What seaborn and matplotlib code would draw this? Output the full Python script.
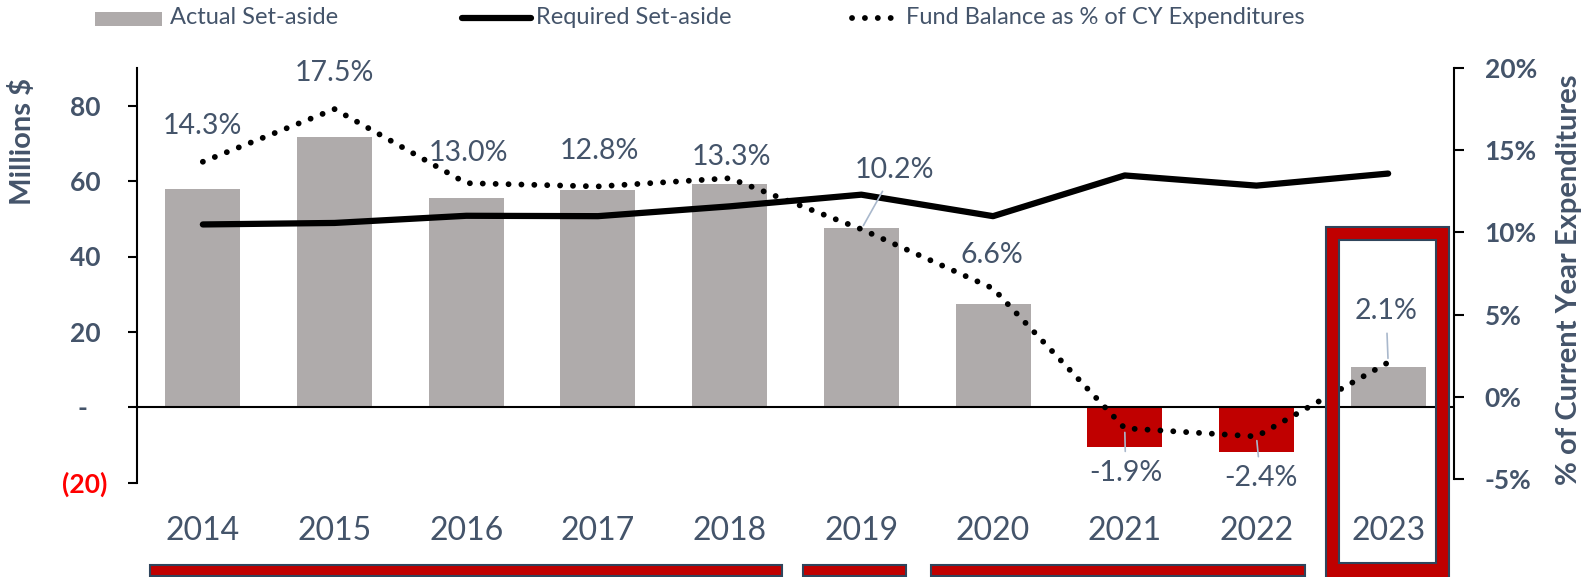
import numpy as np
import pandas as pd
import matplotlib
matplotlib.use('Agg')
import matplotlib.pyplot as plt
from matplotlib.patches import Rectangle, PathPatch
from matplotlib.path import Path
from matplotlib.lines import Line2D
import seaborn as sns

# Datos
years = ['2014', '2015', '2016', '2017', '2018', '2019', '2020', '2021', '2022', '2023']
actual_setaside = [58.0, 71.8, 55.5, 57.6, 59.3, 47.5, 27.5, -10.6, -11.9, 10.8]
required_setaside = [48.5, 48.9, 50.8, 50.7, 53.3, 56.4, 50.7, 61.5, 58.8, 62.0]
fund_balance_pct = [14.3, 17.5, 13.0, 12.8, 13.3, 10.2, 6.6, -1.9, -2.4, 2.1]
left_ticks = [-20, 0, 20, 40, 60, 80]
left_tick_labels = ['(20)', '-   ', '20 ', '40 ', '60 ', '80 ']
right_ticks = [-5, 0, 5, 10, 15, 20]
right_tick_labels = ['-5%', '0%', '5%', '10%', '15%', '20%']

GRAY = '#AFABAB'
RED = '#C00000'
TXT = '#44546A'
DARK = '#2F455C'
bar_colors = [GRAY] * 7 + [RED] * 2 + [GRAY]

# desplazamiento de etiquetas (px) y si llevan línea guía
label_offsets = [(0, 36), (0, 36), (2, 30), (1, 35), (2, 21), (33, 59), (-1, 33), (1, -45), (4, -42), (-2, 51)]
leaders = [False, False, False, False, False, True, False, True, True, True]

df = pd.DataFrame({'Año': years, 'Actual': actual_setaside, 'Required': required_setaside,
                   'Fund': fund_balance_pct, 'pos': np.arange(len(years))})

sns.set_style('white')
plt.rcParams['font.family'] = ['Lato', 'DejaVu Sans']

W, H = 1591, 577
fig = plt.figure(figsize=(W / 100, H / 100), dpi=100)


def fx(x):
    return x / W


def fy(y):
    return 1 - y / H


ax = fig.add_axes([fx(137), fy(482.7), fx(1454) - fx(137), fy(68) - fy(482.7)])

sns.barplot(data=df, x='Año', y='Actual', hue='Año', palette=dict(zip(years, bar_colors)),
            width=0.57, saturation=1, legend=False, linewidth=0, ax=ax)
sns.lineplot(data=df, x='pos', y='Required', ax=ax, color='black', linewidth=4.5,
             solid_capstyle='round', zorder=3)
ax.axhline(0, color='black', lw=1.5, zorder=2)

ax.set_xlim(-0.5, len(years) - 0.5)
ax.set_ylim(-20, 90)
ax.set_yticks(left_ticks)
ax.set_yticklabels(left_tick_labels)
ax.set_xlabel('')
ax.set_ylabel('')
ax.tick_params(axis='y', direction='out', length=6.5, width=1.5, pad=15,
               labelsize=19, labelcolor=TXT, color='black', left=True)
for lab in ax.get_yticklabels():
    lab.set_fontweight('bold')
ax.get_yticklabels()[0].set_color('#FF0000')
ax.tick_params(axis='x', length=0, pad=24, labelsize=23, labelcolor=TXT)
for s in ['top', 'right', 'bottom']:
    ax.spines[s].set_visible(False)
ax.spines['left'].set_color('black')
ax.spines['left'].set_linewidth(1.5)

ax2 = ax.twinx()
sns.lineplot(data=df, x='pos', y='Fund', ax=ax2, color='black', linewidth=4.2,
             linestyle=(0, (0.01, 2.2)), dash_capstyle='round')
ax2.set_ylim(-5.21, 19.96)
ax2.set_yticks(right_ticks)
ax2.set_yticklabels(right_tick_labels)
ax2.set_ylabel('')
ax2.tick_params(axis='y', direction='out', length=7, width=1.5, pad=15,
                labelsize=19, labelcolor=TXT, color='black')
for lab in ax2.get_yticklabels():
    lab.set_fontweight('bold')
for s in ['top', 'left', 'bottom']:
    ax2.spines[s].set_visible(False)
ax2.spines['right'].set_color('black')
ax2.spines['right'].set_linewidth(1.5)
ax2.spines['right'].set_bounds(-5, 20)

for i, v in enumerate(fund_balance_pct):
    dx, dy = label_offsets[i]
    props = None
    if leaders[i]:
        props = dict(arrowstyle='-', color='#A9B8CC', lw=1.2, shrinkA=4, shrinkB=3)
    ax2.annotate(f'{v:.1f}%', xy=(i, v), xytext=(dx, dy), textcoords='offset pixels',
                 ha='center', va='center', fontsize=20.5, color=TXT, arrowprops=props)

fig.text(fx(22), fy(141.5), 'Millions $', rotation=90, ha='center', va='center',
         fontsize=21, fontweight='bold', color=TXT)
fig.text(fx(1569), fy(280), '% of Current Year Expenditures', rotation=90, ha='center',
         va='center', fontsize=21, fontweight='bold', color=TXT)

# leyenda manual
fig.add_artist(Rectangle((fx(95), fy(26)), fx(162) - fx(95), fy(12) - fy(26),
                         transform=fig.transFigure, facecolor=GRAY, edgecolor='none'))
fig.text(fx(170), fy(18), 'Actual Set-aside', ha='left', va='center', fontsize=17, color=TXT)
fig.add_artist(Line2D([fx(462), fx(531)], [fy(18), fy(18)], transform=fig.transFigure,
                      color='black', lw=4.5, solid_capstyle='round'))
fig.text(fx(536), fy(18), 'Required Set-aside', ha='left', va='center', fontsize=17, color=TXT)
fig.add_artist(Line2D([fx(852), fx(893)], [fy(18), fy(18)], transform=fig.transFigure,
                      color='black', lw=4.2, linestyle=(0, (0.01, 2.2)), dash_capstyle='round'))
fig.text(fx(906), fy(18), 'Fund Balance as % of CY Expenditures', ha='left', va='center',
         fontsize=17, color=TXT)

# marco 2023
ox0, ox1, oy0, oy1 = 1326, 1449, 226.7, 590
ix0, ix1, iy0, iy1 = 1339, 1436, 240, 563
verts = [(fx(ox0), fy(oy0)), (fx(ox1), fy(oy0)), (fx(ox1), fy(oy1)), (fx(ox0), fy(oy1)), (0, 0),
         (fx(ix0), fy(iy0)), (fx(ix0), fy(iy1)), (fx(ix1), fy(iy1)), (fx(ix1), fy(iy0)), (0, 0)]
codes = [Path.MOVETO, Path.LINETO, Path.LINETO, Path.LINETO, Path.CLOSEPOLY] * 2
fig.add_artist(PathPatch(Path(verts, codes), transform=fig.transFigure,
                         facecolor=RED, edgecolor=DARK, lw=1.5))

# barras inferiores
for x0, x1 in [(150, 782), (803, 906), (931, 1305)]:
    fig.add_artist(Rectangle((fx(x0), fy(576)), fx(x1) - fx(x0), fy(565) - fy(576),
                             transform=fig.transFigure, facecolor=RED, edgecolor=DARK, lw=1.5))

fig.savefig('out.png', dpi=100)
